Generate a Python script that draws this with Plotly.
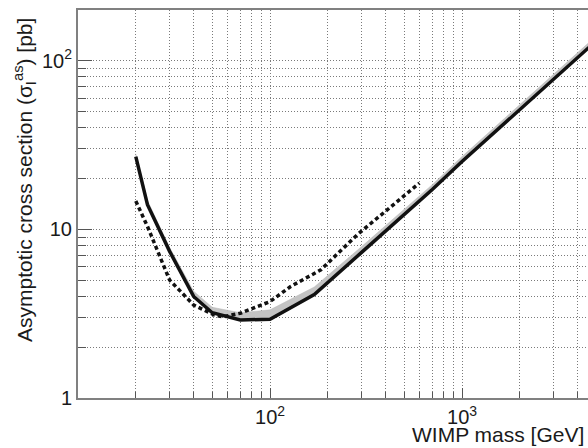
import plotly.graph_objects as go

# --- data ---
mass_solid = [20, 23, 30, 40, 50, 70, 100, 170, 300, 700, 1000, 2000, 5000]
sigma_solid = [27, 14, 7.4, 4.0, 3.2, 2.9, 2.93, 4.1, 7.3, 17.2, 25.2, 51, 131]
sigma_band_upper = [28, 14.8, 7.8, 4.3, 3.45, 3.2, 3.33, 4.55, 7.9, 18.4, 27, 54.5, 140]

mass_dotted = [20, 23, 30, 40, 51, 57, 70, 100, 128, 184, 285, 600]
sigma_dotted = [14.7, 10.4, 5.0, 3.56, 3.11, 3.03, 3.18, 3.73, 4.58, 5.75, 9.3, 18.8]

x_major = [100, 1000]
x_major_text = ["10<sup>2</sup>", "10<sup>3</sup>"]
y_major = [1, 10, 100]
y_major_text = ["1", "10", "10<sup>2</sup>"]

x_minor = [v * d for d in (10, 100, 1000) for v in range(2, 10)] + [10000]
y_minor = [v * d for d in (1, 10, 100) for v in range(2, 10)]

FONT = "Liberation Sans, Arial, Helvetica, sans-serif"
AX_GRAY = "#808080"
GRID = "#7a7a7a"

fig = go.Figure()

# gray band (lower edge = solid curve, upper edge filled)
fig.add_trace(go.Scatter(x=mass_solid, y=sigma_solid, mode="lines",
                         line=dict(width=0, color="rgba(0,0,0,0)"),
                         showlegend=False, hoverinfo="skip"))
fig.add_trace(go.Scatter(x=mass_solid, y=sigma_band_upper, mode="lines",
                         line=dict(width=0.5, color="#b8b8b8"),
                         fill="tonexty", fillcolor="#c4c4c4",
                         showlegend=False, hoverinfo="skip"))
# solid curve
fig.add_trace(go.Scatter(x=mass_solid, y=sigma_solid, mode="lines",
                         line=dict(width=3.5, color="#111111"),
                         showlegend=False))
# dotted curve
fig.add_trace(go.Scatter(x=mass_dotted, y=sigma_dotted, mode="lines",
                         line=dict(width=3.5, color="#111111", dash="4px,3px"),
                         showlegend=False))

fig.update_layout(
    width=588, height=448,
    margin=dict(l=78, r=0, t=10, b=50),
    paper_bgcolor="white", plot_bgcolor="white",
    font=dict(family=FONT, size=20, color="#1a1a1a"),
    showlegend=False,
)

fig.update_xaxes(
    type="log", range=[1, 3.656],
    showline=True, linecolor=AX_GRAY, linewidth=2, mirror=True,
    ticks="inside", ticklen=10, tickcolor="#555555", tickwidth=1,
    tickmode="array", tickvals=x_major, ticktext=x_major_text,
    showgrid=True, gridcolor=GRID, gridwidth=1, griddash="1px,2px",
    minor=dict(tickmode="array", tickvals=x_minor, ticks="inside", ticklen=6,
               tickcolor="#555555", showgrid=True, gridcolor=GRID,
               griddash="1px,2px", gridwidth=1),
    tickfont=dict(size=20, family=FONT, color="#1a1a1a"),
    zeroline=False,
)
fig.update_yaxes(
    type="log", range=[0, 2.30],
    showline=True, linecolor=AX_GRAY, linewidth=2, mirror=False,
    ticks="inside", ticklen=14, tickcolor="#555555", tickwidth=1,
    tickmode="array", tickvals=y_major, ticktext=y_major_text,
    showgrid=True, gridcolor=GRID, gridwidth=1, griddash="1px,2px",
    minor=dict(tickmode="array", tickvals=y_minor, ticks="inside", ticklen=8,
               tickcolor="#555555", showgrid=True, gridcolor=GRID,
               griddash="1px,2px", gridwidth=1),
    tickfont=dict(size=20, family=FONT, color="#1a1a1a"),
    zeroline=False,
)

fig.add_annotation(
    text="Asymptotic cross section (σ<sub>I</sub><sup>as</sup>) [pb]",
    xref="paper", yref="paper", x=(25 - 78) / 510, y=(398 - 16) / 388,
    xanchor="center", yanchor="top", textangle=-90, showarrow=False,
    font=dict(size=21, family=FONT, color="#1a1a1a"),
)
fig.add_annotation(
    text="WIMP mass [GeV]",
    xref="paper", yref="paper", x=(586 - 78) / 510, y=(398 - 434) / 388,
    xanchor="right", yanchor="middle", showarrow=False,
    font=dict(size=21, family=FONT, color="#1a1a1a"),
)

fig.write_html("out.html")
